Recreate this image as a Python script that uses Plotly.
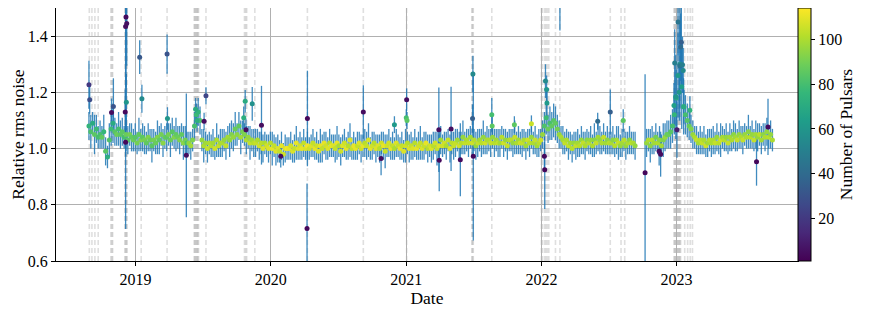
import pandas as pd
import plotly.graph_objects as go

# ---------------- data ----------------
CADENCE = "5D"

seg1_start = "2018-08-28"
seg1_rms = [
    1.08, 1.06, 1.09, 1.05, 1.07, 1.04,
    1.05, 1.04, 1.06, 0.99, 0.97, 1.03,
    1.07, 1.09, 1.06, 1.05, 1.07, 1.05,
    1.06, 1.04, 1.05, 1.03, 1.05, 1.04,
    1.03, 1.04, 1.02, 1.05, 1.03, 1.04,
    1.03, 1.02, 1.04, 1.03, 1.01, 1.03,
    1.02, 1.04, 1.03, 1.05, 1.02, 1.04,
    1.04, 1.05, 1.03, 1.06, 1.04, 1.05,
    1.04, 1.03, 1.05, 1.02, 1.03, 1.02,
    1.02, 1.01, 1.03, 1.08, 1.12, 1.13,
    1.10, 1.03, 1.01, 1.02, 1.00, 1.02,
    1.01, 1.02, 1.00, 1.03, 1.01, 1.02,
    1.02, 1.03, 1.01, 1.04, 1.03, 1.05,
    1.04, 1.07, 1.05, 1.08, 1.04, 1.06,
    1.05, 1.03, 1.04, 1.02, 1.03, 1.02,
    1.02, 1.03, 1.01, 1.02, 1.00, 1.02,
    1.01, 1.00, 1.02, 1.00, 1.01, 0.99,
    1.00, 0.99, 1.01, 0.98, 1.00, 1.00,
    1.00, 1.01, 0.99, 1.00, 1.02, 1.00,
    1.01, 1.00, 1.02, 1.00, 1.01, 1.00,
    1.01, 1.02, 1.00, 1.01, 0.99, 1.01,
    1.00, 1.02, 1.01, 1.00, 1.02, 1.01,
    1.01, 1.00, 1.02, 1.01, 0.99, 1.01,
    1.02, 1.00, 1.01, 1.03, 1.00, 1.01,
    1.00, 1.01, 1.02, 1.00, 1.01, 1.02,
    1.01, 1.03, 1.00, 1.01, 1.02, 1.00,
    1.01, 1.00, 1.02, 1.01, 0.99, 1.01,
    1.02, 1.00, 1.01, 1.00, 1.02, 1.01,
    1.00, 1.01, 0.99, 1.01, 1.02, 1.00,
    1.01, 1.00, 1.02, 1.00, 1.01, 1.02,
    1.00, 1.01, 1.02, 1.00, 1.01, 1.00,
    1.01, 1.02, 1.00, 1.01, 1.03, 1.01,
    1.02, 1.01, 1.03, 1.00, 1.02, 1.01,
    1.02, 1.03, 1.01, 1.02, 1.04, 1.02,
    1.03, 1.02, 1.04, 1.02, 1.03, 1.01,
    1.02, 1.03, 1.02, 1.04, 1.02, 1.03,
    1.03, 1.02, 1.04, 1.02, 1.03, 1.02,
    1.02, 1.04, 1.02, 1.03, 1.01, 1.03,
    1.03, 1.02, 1.04, 1.02, 1.03, 1.02,
    1.02, 1.03, 1.01, 1.03, 1.02, 1.04,
    1.02, 1.03, 1.01, 1.02, 1.03, 1.05,
    1.08, 1.11, 1.07, 1.09, 1.08, 1.10,
    1.09, 1.07, 1.05, 1.04, 1.03, 1.02,
    1.03, 1.01, 1.02, 1.00, 1.02, 1.01,
    1.02, 1.01, 1.03, 1.02, 1.01, 1.03,
    1.02, 1.03, 1.01, 1.03, 1.02, 1.04,
    1.03, 1.02, 1.04, 1.02, 1.03, 1.02,
    1.02, 1.03, 1.01, 1.03, 1.02, 1.01,
    1.02, 1.03, 1.01, 1.02, 1.03, 1.02,
    1.02, 1.01,
]
seg1_err = [
    0.05, 0.06, 0.04, 0.07, 0.05, 0.04,
    0.05, 0.04, 0.06, 0.05, 0.04, 0.06,
    0.06, 0.07, 0.05, 0.04, 0.06, 0.05,
    0.05, 0.04, 0.06, 0.05, 0.04, 0.05,
    0.04, 0.05, 0.04, 0.06, 0.04, 0.05,
    0.05, 0.04, 0.05, 0.04, 0.06, 0.04,
    0.04, 0.06, 0.05, 0.04, 0.05, 0.04,
    0.05, 0.04, 0.06, 0.05, 0.04, 0.06,
    0.04, 0.05, 0.04, 0.06, 0.05, 0.04,
    0.04, 0.05, 0.04, 0.05, 0.04, 0.05,
    0.05, 0.04, 0.06, 0.04, 0.05, 0.04,
    0.04, 0.05, 0.04, 0.06, 0.04, 0.05,
    0.05, 0.04, 0.05, 0.04, 0.06, 0.05,
    0.05, 0.06, 0.04, 0.05, 0.06, 0.04,
    0.04, 0.05, 0.04, 0.06, 0.04, 0.05,
    0.05, 0.04, 0.05, 0.04, 0.05, 0.04,
    0.04, 0.05, 0.04, 0.06, 0.04, 0.05,
    0.05, 0.04, 0.05, 0.04, 0.05, 0.04,
    0.04, 0.05, 0.04, 0.05, 0.06, 0.04,
    0.05, 0.04, 0.05, 0.04, 0.05, 0.04,
    0.04, 0.05, 0.04, 0.05, 0.04, 0.06,
    0.05, 0.04, 0.05, 0.04, 0.05, 0.04,
    0.04, 0.05, 0.06, 0.04, 0.05, 0.04,
    0.05, 0.04, 0.05, 0.06, 0.04, 0.05,
    0.04, 0.05, 0.04, 0.05, 0.04, 0.05,
    0.05, 0.06, 0.04, 0.05, 0.04, 0.05,
    0.04, 0.05, 0.04, 0.05, 0.06, 0.04,
    0.05, 0.04, 0.05, 0.04, 0.05, 0.04,
    0.04, 0.05, 0.04, 0.06, 0.04, 0.05,
    0.05, 0.04, 0.05, 0.04, 0.05, 0.06,
    0.04, 0.05, 0.04, 0.05, 0.04, 0.05,
    0.05, 0.04, 0.06, 0.04, 0.05, 0.04,
    0.04, 0.05, 0.04, 0.05, 0.04, 0.05,
    0.05, 0.04, 0.05, 0.04, 0.06, 0.04,
    0.04, 0.05, 0.04, 0.05, 0.04, 0.05,
    0.05, 0.04, 0.05, 0.06, 0.04, 0.05,
    0.04, 0.05, 0.04, 0.05, 0.04, 0.05,
    0.05, 0.04, 0.05, 0.04, 0.05, 0.04,
    0.04, 0.05, 0.06, 0.04, 0.05, 0.04,
    0.05, 0.04, 0.05, 0.04, 0.05, 0.04,
    0.04, 0.05, 0.04, 0.05, 0.04, 0.05,
    0.05, 0.06, 0.05, 0.06, 0.05, 0.06,
    0.06, 0.05, 0.05, 0.04, 0.05, 0.04,
    0.04, 0.05, 0.04, 0.05, 0.04, 0.05,
    0.05, 0.04, 0.05, 0.04, 0.05, 0.04,
    0.04, 0.05, 0.04, 0.06, 0.04, 0.05,
    0.05, 0.04, 0.05, 0.04, 0.05, 0.04,
    0.04, 0.05, 0.04, 0.05, 0.06, 0.04,
    0.05, 0.04, 0.05, 0.04, 0.05, 0.04,
    0.04, 0.05,
]
seg1_npsr = [
    75, 82, 70, 85, 78, 80,
    80, 86, 76, 84, 72, 82,
    78, 70, 84, 88, 80, 85,
    85, 80, 88, 84, 90, 86,
    88, 84, 90, 86, 92, 85,
    90, 86, 92, 88, 84, 90,
    88, 92, 86, 90, 94, 87,
    85, 90, 88, 84, 92, 86,
    88, 92, 86, 94, 90, 80,
    95, 98, 92, 80, 78, 75,
    82, 96, 100, 98, 104, 100,
    102, 98, 106, 100, 104, 99,
    100, 96, 104, 98, 95, 92,
    96, 88, 94, 86, 98, 90,
    92, 100, 96, 104, 98, 102,
    104, 100, 106, 102, 108, 100,
    106, 108, 102, 110, 104, 108,
    108, 104, 110, 106, 108, 112,
    110, 106, 108, 104, 110, 108,
    106, 110, 104, 108, 112, 106,
    108, 104, 110, 106, 108, 110,
    104, 110, 106, 108, 102, 110,
    108, 104, 110, 100, 106, 108,
    106, 110, 102, 108, 104, 110,
    110, 104, 108, 106, 110, 102,
    104, 108, 110, 106, 102, 108,
    108, 102, 106, 110, 104, 106,
    106, 110, 104, 100, 108, 104,
    110, 104, 108, 106, 102, 108,
    104, 108, 102, 110, 106, 104,
    108, 104, 110, 102, 106, 108,
    102, 106, 104, 108, 98, 106,
    106, 100, 104, 108, 102, 104,
    104, 98, 106, 102, 96, 104,
    100, 104, 98, 106, 102, 96,
    104, 98, 102, 96, 106, 100,
    100, 104, 96, 102, 98, 104,
    98, 102, 106, 96, 104, 100,
    102, 96, 104, 100, 98, 106,
    104, 100, 98, 106, 102, 96,
    100, 104, 98, 102, 106, 96,
    82, 78, 88, 80, 86, 84,
    86, 90, 96, 100, 98, 104,
    100, 104, 98, 102, 96, 104,
    98, 102, 96, 104, 100, 94,
    102, 96, 100, 94, 104, 98,
    96, 100, 104, 98, 94, 102,
    100, 94, 102, 98, 104, 96,
    98, 102, 96, 100, 94, 102,
    100, 96,
]

seg2_start = "2022-10-12"
seg2_rms = [
    1.02, 1.03, 1.01, 1.03, 1.02, 1.04,
    1.02, 1.03, 1.01, 1.03, 1.04, 1.05,
    1.05, 1.06, 1.08, 1.12, 1.18, 1.26,
    1.30, 1.22, 1.15, 1.12, 1.10, 1.08,
    1.07, 1.05, 1.04, 1.03, 1.02, 1.03,
    1.02, 1.03, 1.01, 1.02, 1.03, 1.02,
    1.03, 1.02, 1.04, 1.02, 1.03, 1.04,
    1.03, 1.04, 1.02, 1.04, 1.03, 1.05,
    1.04, 1.03, 1.05, 1.04, 1.03, 1.05,
    1.04, 1.06, 1.04, 1.05, 1.03, 1.05,
    1.04, 1.05, 1.03, 1.05, 1.04, 1.06,
    1.04, 1.05, 1.03,
]
seg2_err = [
    0.05, 0.04, 0.06, 0.05, 0.04, 0.05,
    0.04, 0.05, 0.04, 0.06, 0.05, 0.05,
    0.05, 0.06, 0.06, 0.07, 0.10, 0.15,
    0.20, 0.15, 0.10, 0.07, 0.06, 0.05,
    0.05, 0.05, 0.04, 0.05, 0.04, 0.05,
    0.04, 0.05, 0.04, 0.05, 0.04, 0.05,
    0.05, 0.04, 0.05, 0.04, 0.06, 0.04,
    0.04, 0.05, 0.04, 0.05, 0.04, 0.05,
    0.05, 0.04, 0.05, 0.04, 0.05, 0.04,
    0.04, 0.06, 0.04, 0.05, 0.04, 0.05,
    0.05, 0.04, 0.05, 0.04, 0.05, 0.05,
    0.04, 0.05, 0.04,
]
seg2_npsr = [
    96, 100, 94, 102, 98, 90,
    100, 94, 98, 92, 96, 88,
    88, 84, 80, 76, 70, 62,
    58, 64, 72, 80, 84, 88,
    92, 96, 100, 104, 98, 102,
    104, 100, 106, 98, 102, 100,
    100, 104, 96, 102, 106, 98,
    102, 96, 104, 98, 100, 94,
    98, 104, 96, 100, 104, 96,
    100, 94, 102, 96, 104, 98,
    96, 102, 98, 94, 100, 96,
    102, 96, 100,
]

# isolated / outlying epochs
out_date = [
    "2018-08-28", "2018-08-30", "2018-10-28", "2018-11-02", "2018-12-04",
    "2018-12-05", "2018-12-06", "2018-12-07", "2018-12-08", "2018-12-05",
    "2019-01-12", "2019-01-18", "2019-03-27", "2019-03-28", "2019-05-18",
    "2019-06-12", "2019-06-16", "2019-07-05", "2019-07-10", "2019-10-20",
    "2019-10-24", "2019-10-26", "2019-11-12", "2019-12-07", "2020-01-28",
    "2020-04-09", "2020-04-08", "2020-09-07", "2020-10-25", "2020-11-30",
    "2021-01-02", "2021-01-01", "2021-01-03", "2021-03-30", "2021-03-31",
    "2021-05-02", "2021-05-27", "2021-06-30", "2021-06-29", "2021-07-01",
    "2021-08-20", "2021-08-21", "2021-10-20", "2021-12-05", "2022-01-09",
    "2022-01-10", "2022-01-12", "2022-01-15", "2022-01-16", "2022-02-20",
    "2022-06-02", "2022-07-06", "2022-08-10", "2022-10-08", "2022-11-15",
    "2022-11-19", "2022-12-27", "2022-12-30", "2022-12-25", "2023-01-02",
    "2023-01-05", "2023-01-08", "2023-01-10", "2023-01-12", "2023-01-14",
    "2023-01-17", "2023-01-19", "2023-01-21", "2023-02-06", "2023-08-05",
    "2023-09-05",
]
out_rms = [
    1.227, 1.174, 1.128, 1.150, 1.130,
    1.434, 1.468, 1.165, 1.445, 1.022,
    1.325, 1.177, 1.336, 1.107, 0.976,
    1.140, 1.100, 1.097, 1.188, 1.110,
    1.168, 1.067, 1.159, 1.083, 0.973,
    1.107, 0.716, 1.130, 0.965, 1.085,
    1.174, 1.110, 1.100, 1.067, 0.958,
    1.070, 0.960, 1.265, 1.107, 0.973,
    1.120, 1.080, 1.085, 1.088, 0.973,
    0.925, 1.240, 1.210, 1.162, 1.600,
    1.097, 1.130, 1.100, 0.914, 0.990,
    0.980, 1.304, 1.184, 1.153, 1.067,
    1.450, 1.200, 1.295, 1.361, 1.378,
    1.298, 1.278, 1.148, 1.136, 0.953,
    1.077,
]
out_err = [
    0.085, 0.05, 0.05, 0.10, 0.08,
    0.72, 0.25, 0.10, 0.15, 0.05,
    0.06, 0.05, 0.07, 0.04, 0.22,
    0.04, 0.04, 0.03, 0.03, 0.04,
    0.04, 0.04, 0.06, 0.14, 0.04,
    0.17, 0.16, 0.095, 0.06, 0.03,
    0.04, 0.03, 0.03, 0.15, 0.11,
    0.15, 0.13, 0.065, 0.05, 0.30,
    0.06, 0.04, 0.03, 0.03, 0.05,
    0.14, 0.06, 0.05, 0.05, 0.18,
    0.03, 0.08, 0.04, 0.35, 0.05,
    0.08, 0.12, 0.15, 0.08, 0.10,
    0.12, 0.10, 0.15, 0.12, 0.15,
    0.10, 0.08, 0.06, 0.05, 0.085,
    0.10,
]
out_npsr = [
    20, 28, 5, 30, 4,
    5, 4, 60, 6, 3,
    32, 55, 30, 60, 5,
    70, 72, 5, 25, 72,
    70, 5, 58, 5, 5,
    3, 3, 5, 5, 62,
    5, 80, 85, 5, 4,
    5, 4, 55, 35, 3,
    80, 85, 85, 105, 4,
    3, 55, 60, 62, 10,
    40, 35, 85, 3, 5,
    4, 50, 60, 65, 10,
    45, 60, 45, 40, 35,
    50, 55, 70, 75, 3,
    4,
]

# epochs marked with dashed vertical lines
event_dates = [
    "2018-08-29", "2018-09-05", "2018-09-13", "2018-09-22",
    "2018-10-26", "2018-10-29", "2018-10-31",
    "2018-12-03", "2018-12-05", "2018-12-07", "2018-12-09",
    "2019-01-16", "2019-03-27",
    "2019-06-08", "2019-06-10", "2019-06-12", "2019-06-14", "2019-06-16",
    "2019-06-18", "2019-06-20",
    "2019-07-10",
    "2019-10-22", "2019-10-25", "2019-10-28", "2019-11-19",
    "2020-04-09", "2020-09-07", "2021-01-02",
    "2021-06-27", "2021-06-29", "2021-07-01", "2021-08-20",
    "2022-01-01", "2022-01-03", "2022-01-09", "2022-01-13", "2022-01-17",
    "2022-01-21", "2022-02-08", "2022-02-20",
    "2022-07-06", "2022-08-04", "2022-08-14",
    "2022-12-25", "2022-12-27", "2022-12-29", "2022-12-31", "2023-01-02",
    "2023-01-04", "2023-01-06", "2023-01-08", "2023-01-10", "2023-01-12",
    "2023-01-23", "2023-01-31", "2023-02-07", "2023-02-13",
]

# ---------------- assemble ----------------
d1 = pd.date_range(seg1_start, periods=len(seg1_rms), freq=CADENCE)
d2 = pd.date_range(seg2_start, periods=len(seg2_rms), freq=CADENCE)
dates = list(d1) + list(d2) + list(pd.to_datetime(out_date))
rms = seg1_rms + seg2_rms + out_rms
err = seg1_err + seg2_err + out_err
npsr = seg1_npsr + seg2_npsr + out_npsr

FAM = "Liberation Serif, Times New Roman, serif"
TICKFONT = dict(family=FAM, size=16, color="black")
TITLEFONT = dict(family=FAM, size=17.5, color="black")

fig = go.Figure()

# error bars (drawn first so every marker sits on top)
fig.add_trace(go.Scatter(
    x=dates, y=rms, mode="markers",
    marker=dict(size=1, opacity=0),
    error_y=dict(type="data", array=err, visible=True, width=0,
                 thickness=1.3, color="rgba(31,119,180,0.85)"),
    showlegend=False, hoverinfo="skip",
))

# coloured markers
fig.add_trace(go.Scatter(
    x=dates, y=rms, mode="markers",
    marker=dict(size=5, color=npsr, colorscale="Viridis", cmin=1, cmax=114,
                line=dict(width=0),
                colorbar=dict(
                    x=1.0, xanchor="left", xpad=0, y=0.5, yanchor="middle",
                    len=1.0, lenmode="fraction", ypad=0, thickness=13,
                    outlinewidth=1, outlinecolor="black",
                    tickmode="array", tickvals=[20, 40, 60, 80, 100],
                    ticks="outside", ticklen=4, tickcolor="black",
                    tickfont=TICKFONT,
                    title=dict(text="Number of Pulsars", side="right", font=TITLEFONT),
                )),
    showlegend=False,
))

shapes = []
for d in event_dates:
    shapes.append(dict(type="line", xref="x", yref="paper", x0=d, x1=d, y0=0, y1=1,
                       layer="between",
                       line=dict(color="rgba(140,140,140,0.28)", width=1.6, dash="5px,3px")))

# the page adds an 8 px body margin, so the figure is 8 px smaller
fig.update_layout(
    width=863, height=304,
    margin=dict(l=48, r=73, t=0, b=51, autoexpand=False),
    paper_bgcolor="white", plot_bgcolor="white",
    font=TICKFONT,
    shapes=shapes,
    xaxis=dict(
        type="date", range=["2018-05-31", "2023-11-25"],
        tick0="2019-01-01", dtick="M12", tickformat="%Y",
        showgrid=True, gridcolor="#b0b0b0", gridwidth=1,
        showline=True, linecolor="black", linewidth=1, mirror=True,
        ticks="outside", ticklen=4, tickcolor="black",
        zeroline=False, tickfont=TICKFONT, automargin=False,
        title=dict(text="Date", font=TITLEFONT, standoff=3),
    ),
    yaxis=dict(
        range=[0.6, 1.5], tickmode="array",
        tickvals=[0.6, 0.8, 1.0, 1.2, 1.4], ticktext=["0.6", "0.8", "1.0", "1.2", "1.4"],
        showgrid=True, gridcolor="#b0b0b0", gridwidth=1,
        showline=True, linecolor="black", linewidth=1, mirror=True,
        ticks="outside", ticklen=4, tickcolor="black",
        zeroline=False, tickfont=TICKFONT, automargin=False,
        title=dict(text="Relative rms noise", font=TITLEFONT, standoff=5),
    ),
)

fig.write_html("out.html")
